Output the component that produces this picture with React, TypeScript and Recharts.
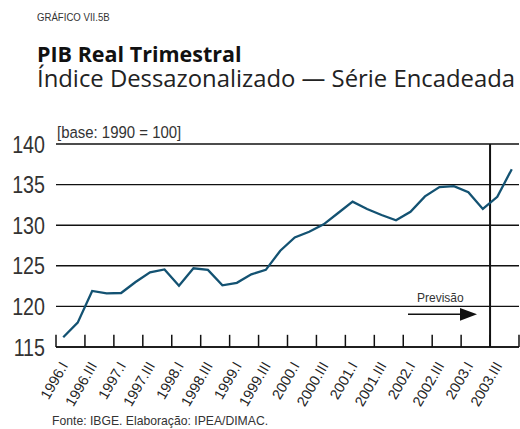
import { ComposedChart, Line, XAxis, YAxis, CartesianGrid, ReferenceLine } from 'recharts';

// quarterly labels, 1996.I .. 2003.IV
const quarters = [
  '1996.I', '1996.II', '1996.III', '1996.IV',
  '1997.I', '1997.II', '1997.III', '1997.IV',
  '1998.I', '1998.II', '1998.III', '1998.IV',
  '1999.I', '1999.II', '1999.III', '1999.IV',
  '2000.I', '2000.II', '2000.III', '2000.IV',
  '2001.I', '2001.II', '2001.III', '2001.IV',
  '2002.I', '2002.II', '2002.III', '2002.IV',
  '2003.I', '2003.II', '2003.III', '2003.IV',
];

// PIB real, índice dessazonalizado (base 1990 = 100)
const pibValues = [
  116.2, 118.0, 121.9, 121.6,
  121.65, 123.0, 124.2, 124.55,
  122.55, 124.7, 124.5, 122.6,
  122.9, 123.95, 124.5, 126.85,
  128.5, 129.2, 130.1, 131.5,
  132.9, 132.0, 131.25, 130.6,
  131.65, 133.55, 134.7, 134.8,
  134.05, 132.0, 133.5, 136.9,
];

const yTicks = [115, 120, 125, 130, 135, 140];
// tick marks sit between every second quarter
const tickBounds = [0, 2, 4, 6, 8, 10, 12, 14, 16, 18, 20, 22, 24, 26, 28, 30, 32];
const forecastStart = 30; // 2003.III

const SANS = "'Liberation Sans', Arial, sans-serif";
const TITLE = "'Open Sans', 'Noto Sans', sans-serif";

const data = quarters.map((q, i) => ({ pos: i + 0.5, q, pib: pibValues[i] }));
const labelTicks = data.filter((_, i) => i % 2 === 0).map(d => d.pos);

const XTick = (props: any) => {
  const { x, y, payload } = props;
  const label = quarters[Math.floor(payload.value)];
  const ax = x + 1;
  const ay = y + 8;
  return (
    <text
      x={ax}
      y={ay}
      transform={`rotate(-60, ${ax}, ${ay})`}
      textAnchor="end"
      dy="0.35em"
      fontSize={14.5}
      fontFamily={SANS}
      fill="#222"
    >
      {label}
    </text>
  );
};

// condensed look for the big value labels
const YTick = (props: any) => {
  const { x, y, payload } = props;
  return (
    <g transform={`translate(${x},${y}) scale(0.82,1)`}>
      <text x={0} y={0} dy="0.36em" textAnchor="end" fontSize={24} fontFamily={SANS} fill="#333">
        {payload.value}
      </text>
    </g>
  );
};

export default function App() {
  return (
    <div style={{ position: 'absolute', left: 0, top: 0, width: 520, height: 429, background: '#fff' }}>
      <ComposedChart
        width={520}
        height={429}
        data={data}
        margin={{ top: 144, right: 1, left: 0, bottom: 0 }}
      >
        <CartesianGrid horizontal vertical={false} stroke="#111" strokeWidth={1.4} />
        <XAxis
          type="number"
          dataKey="pos"
          domain={[0, 32]}
          ticks={labelTicks}
          interval={0}
          height={82}
          tickLine={false}
          axisLine={{ stroke: '#111', strokeWidth: 1.5 }}
          tick={<XTick />}
        />
        <YAxis
          domain={[115, 140]}
          ticks={yTicks}
          width={56}
          axisLine={false}
          tickLine={false}
          tickSize={0}
          tickMargin={11}
          tick={<YTick />}
        />
        {tickBounds.map(b => (
          <ReferenceLine
            key={b}
            segment={[{ x: b, y: 115 }, { x: b, y: 116.5 }]}
            stroke="#111"
            strokeWidth={1.5}
          />
        ))}
        <ReferenceLine x={forecastStart} stroke="#111" strokeWidth={2} />
        <Line
          type="linear"
          dataKey="pib"
          stroke="#135272"
          strokeWidth={2.3}
          dot={false}
          isAnimationActive={false}
        />
      </ComposedChart>
      <svg
        width={520}
        height={429}
        style={{ position: 'absolute', left: 0, top: 0, pointerEvents: 'none' }}
      >
        <g transform="translate(37,20.7) scale(0.86,1)">
          <text x={0} y={0} fontSize={11.2} fontFamily={SANS} fill="#333">GRÁFICO VII.5B</text>
        </g>
        <text x={37} y={61.5} fontSize={21.5} fontWeight={700} fontFamily={TITLE} fill="#111">PIB Real Trimestral</text>
        <text x={37} y={87.3} fontSize={23} textLength={478} lengthAdjust="spacingAndGlyphs" fontFamily={TITLE} fill="#222">
          Índice Dessazonalizado — Série Encadeada
        </text>
        <g transform="translate(57,138.3) scale(0.88,1)">
          <text x={0} y={0} fontSize={17} fontFamily={SANS} fill="#333">[base: 1990 = 100]</text>
        </g>
        <text x={417} y={301.7} fontSize={12} fontFamily={SANS} fill="#333">Previsão</text>
        <line x1={408} y1={314.3} x2={462} y2={314.3} stroke="#111" strokeWidth={1.6} />
        <polygon points="460,308 477,314.3 460,320.7" fill="#111" />
        <text x={52} y={425} fontSize={12.2} fontFamily={SANS} fill="#333">Fonte: IBGE. Elaboração: IPEA/DIMAC.</text>
      </svg>
    </div>
  );
}
